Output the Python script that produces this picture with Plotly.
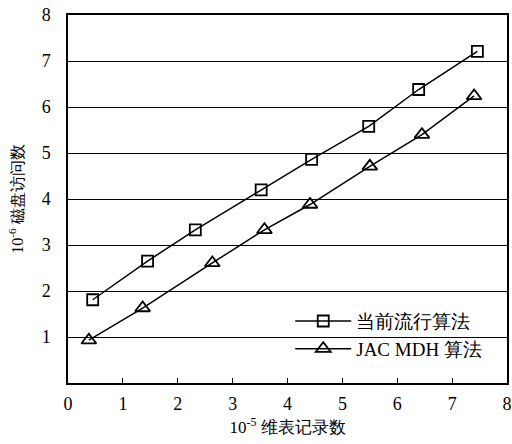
import plotly.graph_objects as go

# Data
sq_x = [0.45, 1.45, 2.32, 3.52, 4.44, 5.48, 6.39, 7.46]
sq_y = [1.81, 2.65, 3.33, 4.20, 4.86, 5.58, 6.38, 7.21]
tr_x = [0.38, 1.36, 2.63, 3.58, 4.41, 5.50, 6.45, 7.40]
tr_y = [0.93, 1.63, 2.61, 3.33, 3.88, 4.71, 5.40, 6.24]
names = ["当前流行算法", "JAC MDH 算法"]
x_ticks = [0, 1, 2, 3, 4, 5, 6, 7, 8]
y_ticks = [1, 2, 3, 4, 5, 6, 7, 8]

serif = "Liberation Serif"
cjk = "Liberation Serif"

fig = go.Figure()
fig.add_trace(go.Scatter(
    x=sq_x, y=sq_y, mode="lines+markers", name=names[0],
    line=dict(color="black", width=1.5),
    marker=dict(symbol="square-open", size=11, color="black", line=dict(width=1.8)),
))
fig.add_trace(go.Scatter(
    x=tr_x, y=tr_y, mode="lines+markers", name=names[1],
    line=dict(color="black", width=1.5),
    marker=dict(symbol="triangle-up-open", size=13, color="black", line=dict(width=1.8)),
))

fig.update_layout(
    width=512, height=444,
    margin=dict(l=68, r=5, t=15, b=61),
    paper_bgcolor="white", plot_bgcolor="white",
    font=dict(family=cjk, size=16, color="black"),
    showlegend=True,
    legend=dict(x=0.955, y=0.13, xanchor="right", yanchor="middle",
                bgcolor="rgba(0,0,0,0)", font=dict(family=cjk, size=19),
                tracegroupgap=0, itemwidth=56),
    xaxis=dict(
        range=[0, 8], tickvals=x_ticks, ticks="inside", ticklen=5, tickcolor="black",
        showline=True, linecolor="black", linewidth=1.5, mirror=True,
        showgrid=False, zeroline=False, automargin=False,
        tickfont=dict(family=serif, size=18), ticklabelstandoff=4,
        title=dict(text="10<sup>-5</sup> 维表记录数", font=dict(family=cjk, size=17), standoff=8),
    ),
    yaxis=dict(
        range=[0, 8], tickvals=y_ticks, ticks="", showline=True, linecolor="black",
        linewidth=1.5, mirror=True, showgrid=True, gridcolor="black", gridwidth=1,
        zeroline=False, automargin=False, tickfont=dict(family=serif, size=18),
        ticklabelstandoff=12,
        title=dict(text="10<sup>-6</sup> 磁盘访问数", font=dict(family=cjk, size=16), standoff=14),
    ),
)

fig.write_html("out.html", post_script="document.body.style.margin='0';",
               config={"displayModeBar": False})
